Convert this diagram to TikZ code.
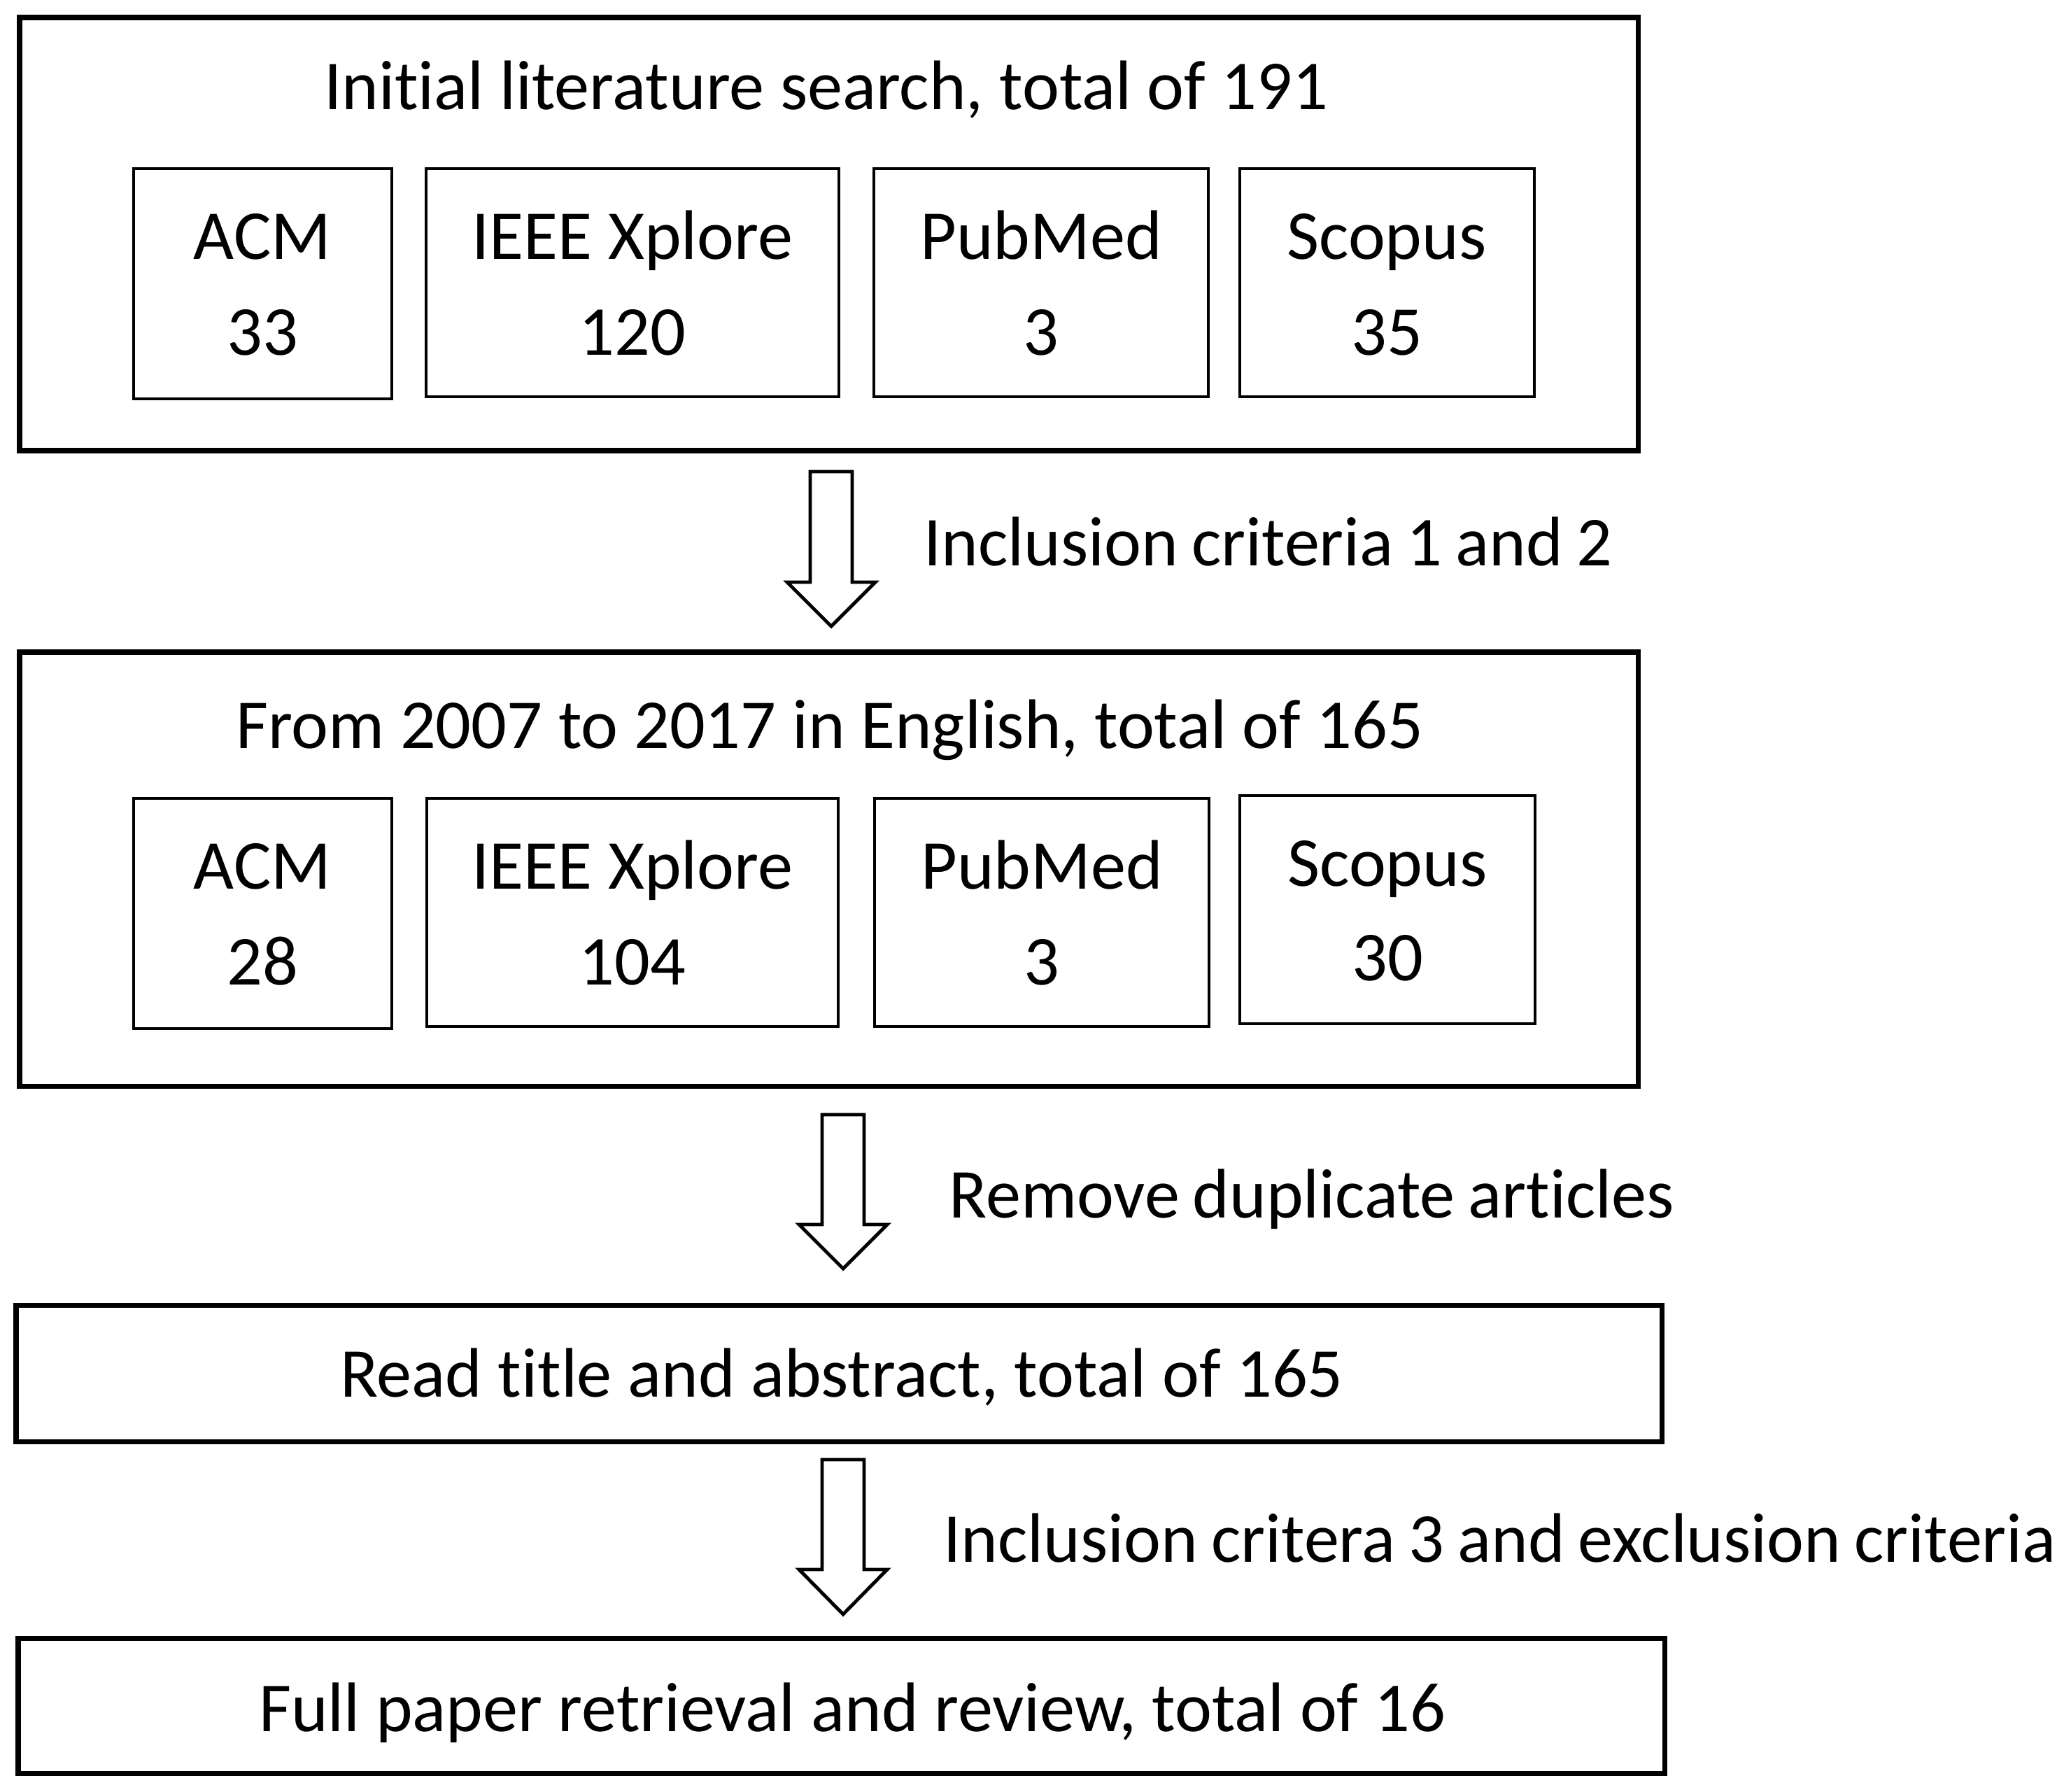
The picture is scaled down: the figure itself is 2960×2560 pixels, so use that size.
\documentclass[tikz,border=0pt]{standalone}
\usepackage{fontspec}
\setmainfont[Ligatures=NoCommon]{Carlito}
\usetikzlibrary{fit,calc}
\newcommand\fs{\fontsize{28.5}{34}\selectfont}
\newcommand\fsl{\fontsize{28.5}{34}\selectfont\spaceskip=0.19em\relax}
\newcommand\blockarr[3]{%
  \draw[barrow] ($(#1)+(-30,0)$) -- ($(#1)+(30,0)$) -- ($(#2)+(30,-#3)$) -- ($(#2)+(63,-#3)$) -- (#2)
    -- ($(#2)+(-63,-#3)$) -- ($(#2)+(-30,-#3)$) -- cycle;}
\begin{document}
\begin{tikzpicture}[x=0.01cm,y=-0.01cm,
  outer/.style={draw,line width=2pt,inner sep=0pt},
  dbbox/.style={draw,line width=1.15pt,inner sep=0pt},
  txt/.style={anchor=base,inner sep=0pt,font=\fs},
  ltxt/.style={anchor=base west,inner sep=0pt,font=\fsl},
  barrow/.style={draw,line width=1.4pt,line join=miter,fill=white}]
\useasboundingbox[fill=white] (0,0) rectangle (2960,2560);

% stage 1
\node[outer,fit={(28,25) (2341,644)}] (b1) {};
\node[txt] (t1) at (1181,156) {Initial literature search, total of 191};
\node[dbbox,fit={(191,241) (560,570)}] (acm1) {};
\node[dbbox,fit={(609,241) (1199,567)}] (ieee1) {};
\node[dbbox,fit={(1249,241) (1727,567)}] (pub1) {};
\node[dbbox,fit={(1772,241) (2193,567)}] (sco1) {};
\node[txt] (acm1n) at (375,370) {ACM};
\node[txt] (acm1v) at (375,507) {33};
\node[txt] (ieee1n) at (904,370) {IEEE Xplore};
\node[txt] (ieee1v) at (904,507) {120};
\node[txt] (pub1n) at (1488,370) {PubMed};
\node[txt] (pub1v) at (1488,507) {3};
\node[txt] (sco1n) at (1982,370) {Scopus};
\node[txt] (sco1v) at (1982,507) {35};

% stage 2
\node[outer,fit={(28,932) (2341,1552)}] (b2) {};
\node[txt] (t2) at (1186,1069) {From 2007 to 2017 in English, total of 165};
\node[dbbox,fit={(191,1141) (560,1470)}] (acm2) {};
\node[dbbox,fit={(610,1141) (1198,1467)}] (ieee2) {};
\node[dbbox,fit={(1250,1141) (1728,1467)}] (pub2) {};
\node[dbbox,fit={(1772,1137) (2194,1463)}] (sco2) {};
\node[txt] (acm2n) at (375,1270) {ACM};
\node[txt] (acm2v) at (375,1407) {28};
\node[txt] (ieee2n) at (904,1270) {IEEE Xplore};
\node[txt] (ieee2v) at (904,1407) {104};
\node[txt] (pub2n) at (1489,1270) {PubMed};
\node[txt] (pub2v) at (1489,1407) {3};
\node[txt] (sco2n) at (1983,1266) {Scopus};
\node[txt] (sco2v) at (1983,1401) {30};

% stage 3 and 4
\node[outer,fit={(23,1865) (2375,2060)}] (b3) {};
\node[txt] (t3) at (1203,1996) {Read title and abstract, total of 165};
\node[outer,fit={(26,2341) (2379,2534)}] (b4) {};
\node[txt] (t4) at (1218,2474) {Full paper retrieval and review, total of 16};

% arrows
\coordinate (a1s) at (1188,674);
\coordinate (a1t) at (1188,895);
\coordinate (a2s) at (1205,1593);
\coordinate (a2t) at (1205,1813);
\coordinate (a3s) at (1205,2086);
\coordinate (a3t) at (1205,2307);
\blockarr{a1s}{a1t}{63}
\blockarr{a2s}{a2t}{63}
\blockarr{a3s}{a3t}{64}

\node[ltxt] (l1) at (1320,808) {Inclusion criteria 1 and 2};
\node[ltxt] (l2) at (1356,1740) {Remove duplicate articles};
\node[ltxt] (l3) at (1348,2232) {Inclusion critera 3 and exclusion criteria};
\end{tikzpicture}
\end{document}
